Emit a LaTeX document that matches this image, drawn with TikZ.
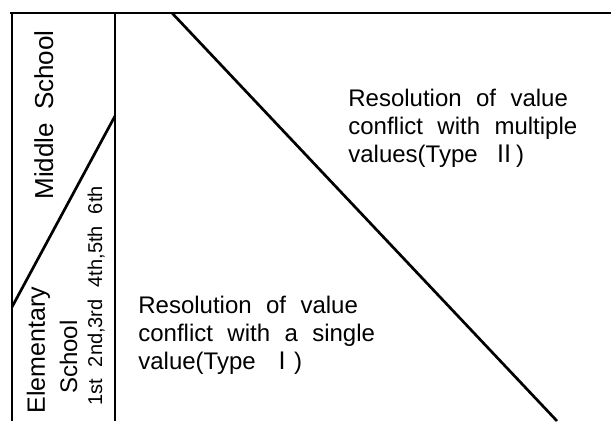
\documentclass[tikz,border=0pt]{standalone}
\usepackage{fontspec}
\setmainfont{Liberation Sans}
\newfontfamily\cjk{Noto Sans CJK JP}
\newcommand\widespace[1]{\spaceskip=#1em plus 0.1em\relax}

\begin{document}
\begin{tikzpicture}[x=1pt, y=-1pt, line width=2.7pt,
		txt/.style={inner sep=0pt, font=\fontsize{24}{27.8}\selectfont\widespace{0.6}},
		vtxt/.style={inner sep=0pt, rotate=90, anchor=base}]
		\useasboundingbox (0,0) rectangle (611,421);
		\coordinate (tl) at (12,13);
		\coordinate (tr) at (611,13);
		\coordinate (bl) at (12,421);
		\coordinate (tm) at (115,13);
		\coordinate (bm) at (115,421);
		\coordinate (cl) at (12,307);
		\coordinate (cm) at (115,116);
		\coordinate (dt) at (172,13);
		\coordinate (db) at (557,421);
		\draw (10,13) -- (tr);
		\draw (tl) -- (bl);
		\draw (tm) -- (bm);
		\draw (cl) -- (cm);
		\draw (dt) -- (db);
		\node [vtxt, font=\fontsize{26}{30}\selectfont\widespace{0.5}] (middle) at (53, 115) {Middle School};
		\node [vtxt, font=\fontsize{25}{30}\selectfont] (elem) at (45, 350) {Elementary};
		\node [vtxt, font=\fontsize{24}{30}\selectfont] (school) at (77, 357) {School};
		\node [vtxt, font=\fontsize{20}{24}\selectfont\widespace{0.6}] (grades) at (102, 296) {1st 2nd,3rd 4th,5th 6th};
		\node [txt, align=left, anchor=base west] (typetwo) at (347, 162) {Resolution of value\\conflict with multiple\\values(Type {\cjk Ⅱ})};
		\node [txt, align=left, anchor=base west] (typeone) at (137, 369) {Resolution of value\\conflict with a single\\value(Type {\cjk Ⅰ})};
	\end{tikzpicture}
\end{document}
